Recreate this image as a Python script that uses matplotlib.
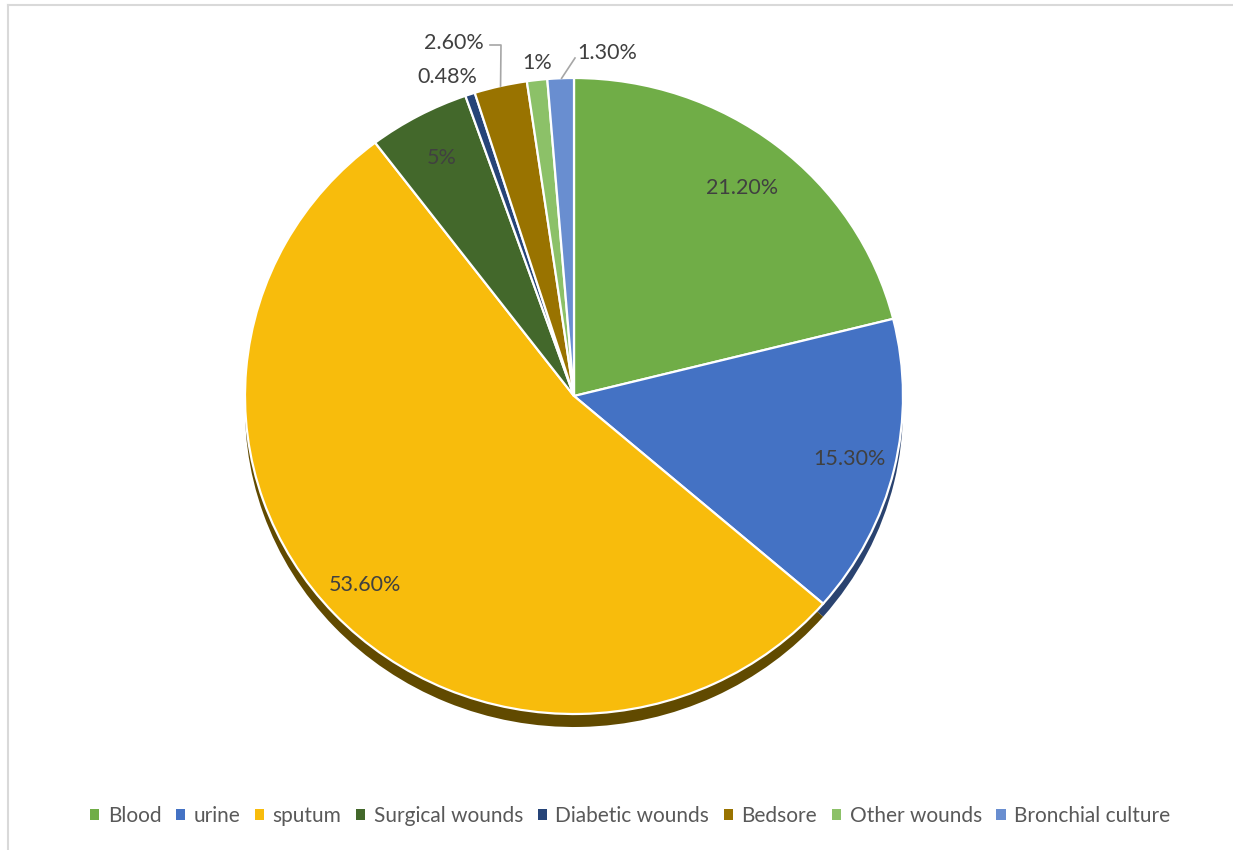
import numpy as np
import matplotlib
matplotlib.use("Agg")
import matplotlib.pyplot as plt
from matplotlib.patches import Patch
from matplotlib.lines import Line2D

categories = ["Blood", "urine", "sputum", "Surgical wounds", "Diabetic wounds",
              "Bedsore", "Other wounds", "Bronchial culture"]
values = [21.2, 15.3, 53.6, 5, 0.48, 2.6, 1, 1.3]
pct_labels = ["21.20%", "15.30%", "53.60%", "5%", "0.48%", "2.60%", "1%", "1.30%"]

colors = ["#70AD47", "#4472C4", "#F8BC0C", "#43682B", "#264478",
          "#997300", "#8CC168", "#698ED0"]
shadow_colors = ["#3d5e27", "#2a4370", "#614a00", "#2a4019", "#172a4a",
                 "#5c4500", "#557a3d", "#3f5880"]

plt.rcParams['font.family'] = ['Lato', 'DejaVu Sans']

W, H = 1233, 850
fig = plt.figure(figsize=(W / 100, H / 100), dpi=100)
ax = fig.add_axes([0, 0, 1, 1])

# pixel geometry of the (slightly squashed) pie
cx, cy = 574, 396
rx, ry = 329, 318
s = ry / rx
center = (cx, (H - cy) / s)

# shadow under the pie
ax.pie(values, colors=shadow_colors, startangle=90, counterclock=False,
       radius=rx, center=(cx, center[1] - 13 / s),
       wedgeprops=dict(linewidth=0), frame=True)
wedges, _ = ax.pie(values, colors=colors, startangle=90, counterclock=False,
                   radius=rx, center=center,
                   wedgeprops=dict(edgecolor="white", linewidth=1.6), frame=True)

ax.set_xlim(0, W)
ax.set_ylim(0, H / s)
ax.set_aspect('auto')
ax.axis('off')

lab_color = "#404040"
fs = 15.5


def edge_point(w, r):
    a = np.deg2rad((w.theta1 + w.theta2) / 2)
    return cx + r * rx * np.cos(a), center[1] + r * rx * np.sin(a)


# labels inside the larger wedges
inside = {0: 0.83, 1: 0.86, 2: 0.87, 3: 0.85}
for i, r in inside.items():
    x, y = edge_point(wedges[i], r)
    ax.text(x, y, pct_labels[i], ha='center', va='center', fontsize=fs, color=lab_color)

# labels outside the small wedges (positions in pixels)
outside = {4: (447, 77), 5: (454, 43), 6: (537, 63), 7: (607, 53)}
for i, (px, py) in outside.items():
    ax.text(px, (H - py) / s, pct_labels[i], ha='center', va='center',
            fontsize=fs, color=lab_color)

# leader lines
ex, ey = edge_point(wedges[5], 1.0)
ax.plot([490, 501, ex], [(H - 45) / s, (H - 45) / s, ey], color="#a6a6a6", lw=1.2)
ex, ey = edge_point(wedges[7], 1.0)
ax.plot([575, ex + 1], [(H - 58) / s, ey], color="#a6a6a6", lw=1.2)

# chart-area border
fig.add_artist(Line2D([8 / W, 1], [1 - 5 / H, 1 - 5 / H], color="#d9d9d9", lw=1.5,
                      transform=fig.transFigure))
fig.add_artist(Line2D([8 / W, 8 / W], [0, 1 - 5 / H], color="#d9d9d9", lw=1.5,
                      transform=fig.transFigure))

handles = [Patch(facecolor=c, edgecolor='none') for c in colors]
fig.legend(handles, categories, loc='center', bbox_to_anchor=(0.511, 1 - 816 / H),
           ncol=8, frameon=False, fontsize=15, handlelength=0.45, handleheight=0.45,
           handletextpad=0.4, columnspacing=0.7, labelcolor="#595959")

fig.savefig("out.png", dpi=100)
